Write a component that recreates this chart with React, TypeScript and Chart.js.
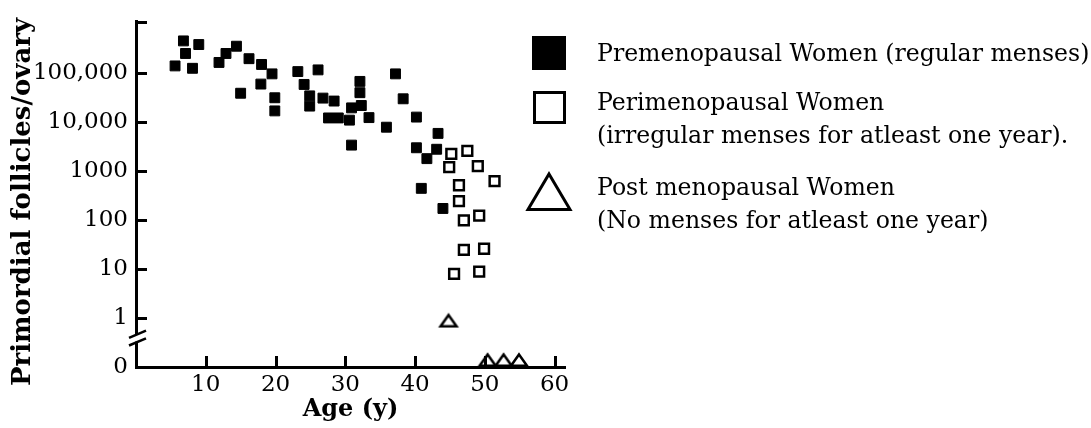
import { useEffect, useRef } from "react";
import { Chart, registerables } from "chart.js";

Chart.register(...registerables);

// ---- data (age in years, primordial follicles per ovary) ----
const PRE_AGE = [
  6.8, 9.0, 7.1, 5.6, 8.1, 14.4, 12.9, 11.9, 16.2, 18.0, 19.5, 17.9, 15.0, 19.9, 19.9,
  23.2, 26.1, 24.1, 24.9, 24.9, 26.8, 28.4, 27.6, 29.0, 30.6, 32.1, 32.1, 30.9, 32.3,
  33.4, 35.9, 30.9, 37.2, 38.3, 40.2, 43.3, 40.2, 43.1, 41.7, 40.9, 44.0,
];
const PRE_COUNT = [
  457000, 385000, 253000, 141000, 126000, 356000, 253000, 166000, 198000, 151000, 97000,
  60000, 39000, 31500, 17000, 108000, 117000, 59000, 34500, 21300, 31000, 27000, 12200,
  12200, 11000, 68000, 40000, 19600, 21900, 12400, 7900, 3400, 97000, 30000, 12700, 5900,
  3000, 2800, 1800, 445, 173,
];
const PERI_AGE = [45.2, 47.5, 44.9, 49.0, 51.4, 46.3, 46.3, 47.0, 49.2, 47.0, 49.9, 45.6, 49.2];
const PERI_COUNT = [2250, 2600, 1210, 1260, 625, 515, 245, 99, 123, 24.6, 26, 8, 8.9];
const POST_AGE = [44.8, 50.4, 52.7, 54.9];
const POST_COUNT = [0.64, 0, 0, 0];

const X_TICKS = [10, 20, 30, 40, 50, 60];
const Y_TICK_COUNTS = [0, 1, 10, 100, 1000, 10000, 100000];
const Y_TICK_LABELS = ["0", "1", "10", "100", "1000", "10,000", "100,000"];
const LEGEND_LABELS = [
  ["Premenopausal Women (regular menses)"],
  ["Perimenopausal Women", "(irregular menses for atleast one year)."],
  ["Post menopausal Women", "(No menses for atleast one year)"],
];
const Y_AXIS_TITLE = "Primordial follicles/ovary";
const X_AXIS_TITLE = "Age (y)";

// broken log axis: zero is drawn one decade below 1
const ZERO_POS = -1;
const Y_TOP = 6.05;
const BREAK_POS = -0.41;
const toAxis = (v: number) => (v > 0 ? Math.log10(v) : ZERO_POS);

const FONT = "'DejaVu Serif', serif";

function makeTriangle(): HTMLCanvasElement {
  const c = document.createElement("canvas");
  c.width = 26;
  c.height = 34;
  const g = c.getContext("2d")!;
  g.strokeStyle = "#000";
  g.lineWidth = 2.5;
  g.lineJoin = "miter";
  g.beginPath();
  g.moveTo(13, 4.5);
  g.lineTo(21, 15.8);
  g.lineTo(5, 15.8);
  g.closePath();
  g.stroke();
  return c;
}

const decor = {
  id: "decor",
  afterDraw(chart: any) {
    const { ctx, chartArea, scales } = chart;
    const { left, bottom } = chartArea;
    const x = scales.x;
    const y = scales.y;
    ctx.save();
    ctx.strokeStyle = "#000";
    ctx.lineWidth = 3;
    ctx.lineCap = "butt";
    const line = (x1: number, y1: number, x2: number, y2: number) => {
      ctx.beginPath();
      ctx.moveTo(x1, y1);
      ctx.lineTo(x2, y2);
      ctx.stroke();
    };
    // inward tick marks
    y.ticks.forEach((t: any) => {
      if (t.value <= ZERO_POS) return;
      const py = Math.round(y.getPixelForValue(t.value)) + 0.5;
      line(left, py, left + 11, py);
    });
    x.ticks.forEach((t: any) => {
      const px = Math.round(x.getPixelForValue(t.value)) + 0.5;
      line(px, bottom, px, bottom - 11);
    });
    // axis break
    const yb = y.getPixelForValue(BREAK_POS);
    ctx.fillStyle = "#fff";
    ctx.fillRect(left - 3, yb - 3.5, 6, 7);
    ctx.lineWidth = 2.5;
    [-3.8, 3.8].forEach((s) => line(left - 7, yb + s + 3.6, left + 10, yb + s - 3.6));

    // y axis title
    ctx.fillStyle = "#000";
    ctx.save();
    ctx.translate(23, 202);
    ctx.rotate(-Math.PI / 2);
    ctx.font = `bold 26px ${FONT}`;
    ctx.textAlign = "center";
    ctx.textBaseline = "middle";
    ctx.fillText(Y_AXIS_TITLE, 0, 0);
    ctx.restore();

    // legend
    const mx = 549;
    ctx.lineWidth = 3;
    ctx.fillRect(532, 36, 34, 34);
    ctx.strokeRect(534.5, 92.5, 30, 30);
    ctx.lineJoin = "miter";
    ctx.beginPath();
    ctx.moveTo(mx, 174);
    ctx.lineTo(mx + 21, 209.5);
    ctx.lineTo(mx - 21, 209.5);
    ctx.closePath();
    ctx.stroke();

    ctx.font = `23.6px ${FONT}`;
    ctx.textBaseline = "middle";
    ctx.textAlign = "left";
    const rows = [[55], [104, 137], [189, 222]];
    LEGEND_LABELS.forEach((lines, i) => {
      lines.forEach((txt, j) => ctx.fillText(txt, 597, rows[i][j]));
    });
    ctx.restore();
  },
};

export default function App() {
  const ref = useRef<HTMLCanvasElement>(null);
  useEffect(() => {
    if (!ref.current) return;
    const tri = makeTriangle();
    const chart = new Chart(ref.current, {
      type: "scatter",
      data: {
        datasets: [
          {
            label: LEGEND_LABELS[0][0],
            data: PRE_AGE.map((a, i) => ({ x: a, y: toAxis(PRE_COUNT[i]) })),
            pointStyle: "rect",
            pointRadius: 7,
            backgroundColor: "#000",
            borderColor: "#000",
            borderWidth: 1,
          },
          {
            label: LEGEND_LABELS[1][0],
            data: PERI_AGE.map((a, i) => ({ x: a, y: toAxis(PERI_COUNT[i]) })),
            pointStyle: "rect",
            pointRadius: 6.9,
            backgroundColor: "#fff",
            borderColor: "#000",
            borderWidth: 2.5,
          },
          {
            label: LEGEND_LABELS[2][0],
            data: POST_AGE.map((a, i) => ({ x: a, y: toAxis(POST_COUNT[i]) })),
            pointStyle: tri,
            pointRadius: 10,
            backgroundColor: "rgba(0,0,0,0)",
            borderColor: "#000",
          },
        ],
      },
      options: {
        animation: false,
        responsive: false,
        devicePixelRatio: 1,
        layout: { padding: { left: 0, right: 526, top: 17, bottom: 0 } },
        plugins: { legend: { display: false }, tooltip: { enabled: false } },
        scales: {
          x: {
            type: "linear",
            min: 0,
            max: 61.5,
            afterBuildTicks: (s: any) => {
              s.ticks = X_TICKS.map((v) => ({ value: v }));
            },
            afterFit: (s: any) => {
              s.height = 61;
            },
            ticks: {
              autoSkip: false,
              maxRotation: 0,
              padding: 4,
              color: "#000",
              font: { family: FONT, size: 23 },
            },
            grid: { display: false, drawTicks: false },
            border: { display: true, color: "#000", width: 3 },
            title: {
              display: true,
              text: X_AXIS_TITLE,
              color: "#000",
              font: { family: FONT, size: 24, weight: "bold" },
              padding: { top: 0, bottom: 4 },
            },
          },
          y: {
            type: "linear",
            min: ZERO_POS,
            max: Y_TOP,
            afterBuildTicks: (s: any) => {
              s.ticks = [...Y_TICK_COUNTS.map(toAxis), Y_TOP].map((v) => ({ value: v }));
            },
            afterFit: (s: any) => {
              s.width = 136;
            },
            ticks: {
              autoSkip: false,
              padding: 8,
              color: "#000",
              font: { family: FONT, size: 23 },
              callback: (value: any) => {
                const idx = Y_TICK_COUNTS.findIndex((c) => Math.abs(toAxis(c) - Number(value)) < 1e-6);
                return idx >= 0 ? Y_TICK_LABELS[idx] : "";
              },
            },
            grid: { display: false, drawTicks: false },
            border: { display: true, color: "#000", width: 3 },
            title: { display: false, text: Y_AXIS_TITLE },
          },
        },
      },
      plugins: [decor],
    });
    return () => chart.destroy();
  }, []);

  return (
    <div style={{ position: "fixed", left: 0, top: 0, width: 1091, height: 428, background: "#fff" }}>
      <canvas ref={ref} width={1091} height={428} />
    </div>
  );
}
